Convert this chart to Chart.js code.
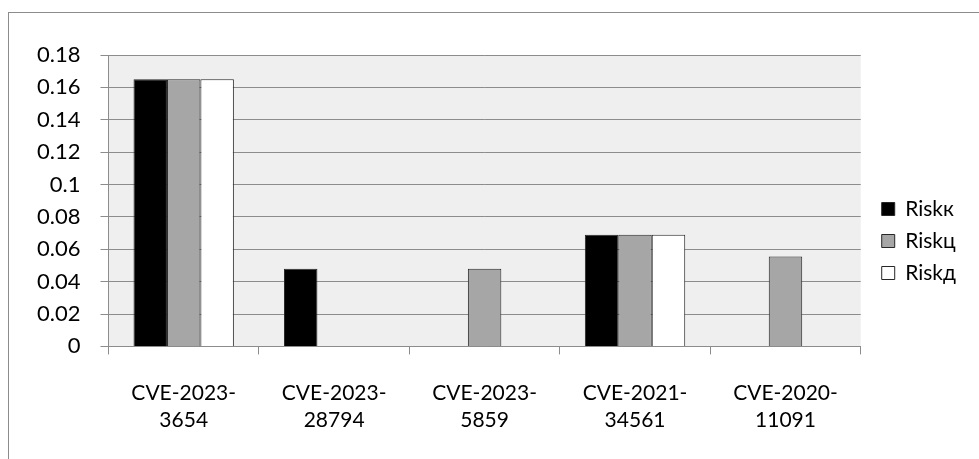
<!DOCTYPE html>
<html>
<head>
<meta charset="utf-8">
<script src="https://cdn.jsdelivr.net/npm/chart.js@4/dist/chart.umd.min.js"></script>
<style>
  html, body { margin: 0; padding: 0; background: #fff; overflow: hidden; }
  #wrap { position: relative; width: 979px; height: 459px; }
  #frame {
    position: absolute; left: 8px; top: 12px; width: 1000px; height: 500px;
    border-top: 1px solid #8c8c8c; border-left: 1px solid #8c8c8c;
  }
  #riskChart { position: absolute; left: 0; top: 0; }
</style>
</head>
<body>
<div id="wrap">
  <div id="frame"></div>
  <canvas id="riskChart" width="979" height="459"></canvas>
</div>
<script>
const categories = [
  ["CVE-2023-", "3654"],
  ["CVE-2023-", "28794"],
  ["CVE-2023-", "5859"],
  ["CVE-2021-", "34561"],
  ["CVE-2020-", "11091"]
];
const riskK = [0.165, 0.048, null, 0.069, null];
const riskC = [0.165, null, 0.048, 0.069, 0.0555];
const riskD = [0.165, null, null, 0.069, null];
const yTicks = [0, 0.02, 0.04, 0.06, 0.08, 0.1, 0.12, 0.14, 0.16, 0.18];

const FONT = "Lato, 'Open Sans', sans-serif";

// light grey fill behind the plot area
const plotBackground = {
  id: "plotBackground",
  beforeDraw(chart) {
    const { ctx, chartArea: a } = chart;
    ctx.save();
    ctx.fillStyle = "#efefef";
    ctx.fillRect(a.left, a.top, a.right - a.left, a.bottom - a.top);
    ctx.restore();
  }
};

// nudge the legend box: a bit up and to the right of where layout puts it
const legendNudge = {
  id: "legendNudge",
  afterLayout(chart) {
    const lg = chart.legend;
    if (!lg) return;
    lg.top -= 16;
    lg.bottom -= 16;
    lg.left += 10;
    lg.right += 10;
  }
};

function makeSet(label, data, color) {
  return {
    label: label,
    data: data,
    backgroundColor: color,
    borderColor: "#262626",
    borderWidth: 1,
    borderSkipped: "bottom",
    categoryPercentage: 0.667,
    barPercentage: 1.0
  };
}

function renderChart() {
  const canvas = document.getElementById("riskChart");
  const ctx = canvas.getContext("2d");

  new Chart(ctx, {
    type: "bar",
    data: {
      labels: categories,
      datasets: [
        makeSet("Riskк", riskK, "#000000"),
        makeSet("Riskц", riskC, "#a6a6a6"),
        makeSet("Riskд", riskD, "#ffffff")
      ]
    },
    plugins: [plotBackground, legendNudge],
    options: {
      responsive: false,
      animation: false,
      layout: { padding: { left: 17, top: 55, right: 23, bottom: 0 } },
      plugins: {
        tooltip: { enabled: false },
        legend: {
          position: "right",
          labels: {
            font: { family: FONT, size: 21 },
            color: "#000",
            boxWidth: 13,
            boxHeight: 13,
            padding: 11
          }
        }
      },
      scales: {
        x: {
          grid: {
            offset: true,
            drawOnChartArea: false,
            drawTicks: true,
            tickLength: 8,
            color: "#8c8c8c"
          },
          border: { color: "#8c8c8c" },
          ticks: {
            font: { family: FONT, size: 21, lineHeight: 1.3 },
            color: "#000",
            padding: 25,
            maxRotation: 0,
            autoSkip: false
          }
        },
        y: {
          min: 0,
          max: 0.18,
          afterBuildTicks(axis) {
            axis.ticks = yTicks.map(v => ({ value: v }));
          },
          grid: {
            color: "#8c8c8c",
            drawTicks: true,
            tickLength: 8
          },
          border: { color: "#8c8c8c" },
          ticks: {
            font: { family: FONT, size: 22 },
            color: "#000",
            padding: 20,
            callback: v => String(Math.round(v * 100) / 100)
          }
        }
      }
    }
  });
}

window.addEventListener("load", renderChart);
</script>
</body>
</html>
